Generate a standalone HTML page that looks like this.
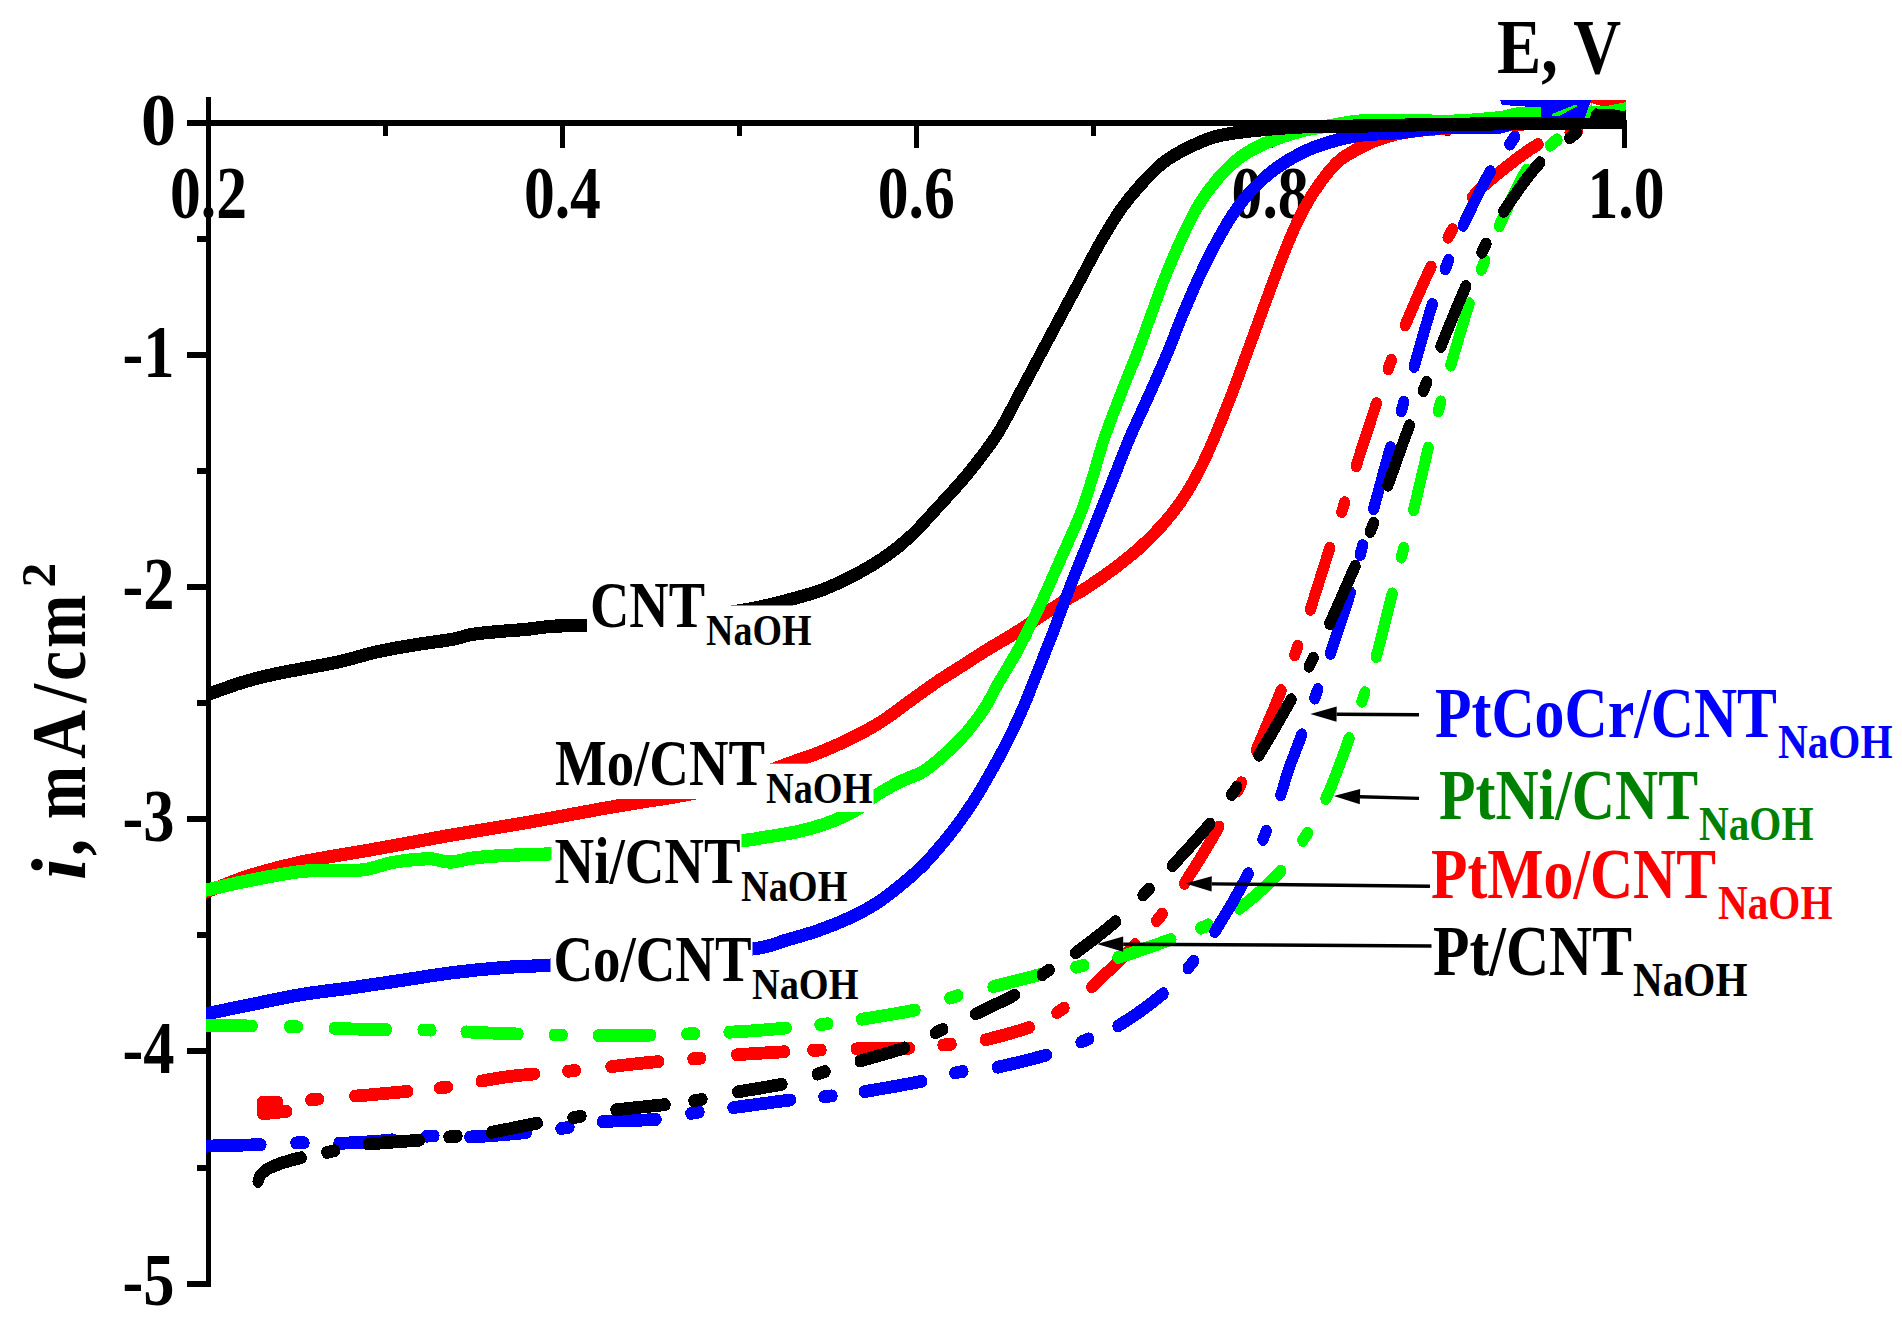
<!DOCTYPE html>
<html><head><meta charset="utf-8"><title>ORR polarization curves</title>
<style>
html,body{margin:0;padding:0;background:#fff;}
body{width:1902px;height:1317px;overflow:hidden;}
svg{display:block;}
text{font-family:"Liberation Serif","Times New Roman",serif;font-weight:bold;}
.ax{stroke:#000;fill:none;}
.cv{fill:none;stroke-width:13.2;stroke-linejoin:round;}
.dd{fill:none;stroke-width:12.8;stroke-linecap:round;stroke-linejoin:round;}
</style></head><body>
<svg width="1902" height="1317" viewBox="0 0 1902 1317">
<rect width="1902" height="1317" fill="#fff"/>
<defs><clipPath id="plot"><rect x="206" y="100" width="1420" height="1190"/></clipPath></defs>

<g class="ax" shape-rendering="crispEdges">
<rect x="206" y="97" width="5" height="1189.5" fill="#000" stroke="none"/>
<rect x="187" y="120" width="1440" height="6" fill="#000" stroke="none"/>
<rect x="382.9" y="123" width="5" height="12.5" fill="#000" stroke="none"/>
<rect x="559.9" y="123" width="5" height="24.5" fill="#000" stroke="none"/>
<rect x="736.8" y="123" width="5" height="12.5" fill="#000" stroke="none"/>
<rect x="913.8" y="123" width="5" height="24.5" fill="#000" stroke="none"/>
<rect x="1090.7" y="123" width="5" height="12.5" fill="#000" stroke="none"/>
<rect x="1267.6" y="123" width="5" height="24.5" fill="#000" stroke="none"/>
<rect x="1444.6" y="123" width="5" height="12.5" fill="#000" stroke="none"/>
<rect x="1621.5" y="123" width="5" height="24.5" fill="#000" stroke="none"/>
<rect x="197" y="236.1" width="11" height="6" fill="#000" stroke="none"/>
<rect x="187" y="352.1" width="21" height="6" fill="#000" stroke="none"/>
<rect x="197" y="468.1" width="11" height="6" fill="#000" stroke="none"/>
<rect x="187" y="584.2" width="21" height="6" fill="#000" stroke="none"/>
<rect x="197" y="700.2" width="11" height="6" fill="#000" stroke="none"/>
<rect x="187" y="816.3" width="21" height="6" fill="#000" stroke="none"/>
<rect x="197" y="932.4" width="11" height="6" fill="#000" stroke="none"/>
<rect x="187" y="1048.4" width="21" height="6" fill="#000" stroke="none"/>
<rect x="197" y="1164.5" width="11" height="6" fill="#000" stroke="none"/>
<rect x="187" y="1280.5" width="21" height="6" fill="#000" stroke="none"/>
</g>
<text x="208.5" y="218.3" font-size="75" textLength="77.0" lengthAdjust="spacingAndGlyphs" fill="#000" text-anchor="middle">0.2</text>
<text x="562.4" y="218.3" font-size="75" textLength="77.0" lengthAdjust="spacingAndGlyphs" fill="#000" text-anchor="middle">0.4</text>
<text x="916.3" y="218.3" font-size="75" textLength="77.0" lengthAdjust="spacingAndGlyphs" fill="#000" text-anchor="middle">0.6</text>
<text x="1270.1" y="218.3" font-size="75" textLength="77.0" lengthAdjust="spacingAndGlyphs" fill="#000" text-anchor="middle">0.8</text>
<text x="1626.0" y="218.3" font-size="75" textLength="77.0" lengthAdjust="spacingAndGlyphs" fill="#000" text-anchor="middle">1.0</text>
<text x="176.0" y="144.5" font-size="74" textLength="35.0" lengthAdjust="spacingAndGlyphs" fill="#000" text-anchor="end">0</text>
<text x="174.5" y="376.6" font-size="74" textLength="52.0" lengthAdjust="spacingAndGlyphs" fill="#000" text-anchor="end">-1</text>
<text x="174.5" y="608.7" font-size="74" textLength="52.0" lengthAdjust="spacingAndGlyphs" fill="#000" text-anchor="end">-2</text>
<text x="174.5" y="840.8" font-size="74" textLength="52.0" lengthAdjust="spacingAndGlyphs" fill="#000" text-anchor="end">-3</text>
<text x="174.5" y="1072.9" font-size="74" textLength="52.0" lengthAdjust="spacingAndGlyphs" fill="#000" text-anchor="end">-4</text>
<text x="174.5" y="1305.0" font-size="74" textLength="52.0" lengthAdjust="spacingAndGlyphs" fill="#000" text-anchor="end">-5</text>
<text x="1497.0" y="72.5" font-size="78" textLength="124.0" lengthAdjust="spacingAndGlyphs" fill="#000" text-anchor="start">E, V</text>
<text transform="translate(84.5,878) rotate(-90)" font-size="78"><tspan x="-2.0" font-style="italic">i</tspan><tspan x="22.0" textLength="33.93" lengthAdjust="spacingAndGlyphs">, </tspan><tspan x="58.8" textLength="53.28" lengthAdjust="spacingAndGlyphs">m</tspan><tspan x="119.0" textLength="48.99" lengthAdjust="spacingAndGlyphs">A</tspan><tspan x="175.2" textLength="18.87" lengthAdjust="spacingAndGlyphs">/</tspan><tspan x="197.0" textLength="30.13" lengthAdjust="spacingAndGlyphs">c</tspan><tspan x="230.0" textLength="53.28" lengthAdjust="spacingAndGlyphs">m</tspan><tspan x="290.6" font-size="49.5" dy="-30">2</tspan></text>
<g clip-path="url(#plot)" shape-rendering="crispEdges"><g transform="scale(0.87,1)">
<path class="cv" stroke="#f00" d="M229.9 894.0C231.8 893.4 231.7 893.5 241.4 890.4C251.1 887.3 270.5 880.0 287.9 875.3C305.4 870.6 321.8 866.5 346.0 862.1C370.2 857.7 404.0 853.3 433.0 848.8C462.0 844.3 491.0 839.3 520.0 834.9C549.0 830.5 577.9 826.7 606.9 822.3C635.9 817.9 672.3 811.8 694.0 808.4C715.8 805.0 723.0 804.2 737.5 802.1C752.0 800.0 766.0 798.5 781.0 796.0C796.1 793.5 810.1 791.3 827.6 787.0C845.1 782.7 872.8 774.0 886.2 770.0C899.6 766.0 899.2 765.8 908.0 763.0C916.9 760.2 927.8 757.3 939.1 753.4C950.4 749.5 963.5 744.7 975.7 739.5C988.0 734.3 1000.4 728.6 1012.4 722.0C1024.4 715.4 1036.9 706.7 1047.6 700.0C1058.3 693.3 1067.0 687.7 1076.7 682.0C1086.3 676.3 1096.0 671.4 1105.6 666.0C1115.3 660.6 1124.9 655.0 1134.6 649.8C1144.3 644.6 1154.0 640.0 1163.7 634.7C1173.4 629.5 1183.0 623.8 1192.6 618.3C1202.3 612.8 1211.9 607.1 1221.6 601.9C1231.3 596.6 1241.0 592.3 1250.7 586.8C1260.4 581.3 1270.0 575.4 1279.7 569.1C1289.3 562.8 1299.4 556.0 1308.6 548.9C1317.8 541.8 1326.6 534.2 1334.8 526.2C1343.0 518.2 1350.7 510.1 1357.9 500.9C1365.2 491.6 1372.0 481.2 1378.3 470.7C1384.6 460.2 1389.2 451.3 1395.7 437.9C1402.3 424.5 1411.3 404.4 1417.6 390.2C1423.9 375.9 1428.2 365.0 1433.6 352.4C1438.9 339.8 1444.2 327.1 1449.5 314.5C1454.9 301.9 1460.2 288.9 1465.5 276.7C1470.8 264.5 1475.8 252.7 1481.4 241.3C1486.9 229.9 1492.6 218.6 1498.9 208.5C1505.1 198.4 1512.3 188.8 1519.1 180.8C1525.8 172.8 1532.2 166.1 1539.4 160.6C1546.7 155.1 1556.1 151.2 1562.6 148.0C1569.2 144.8 1572.1 143.5 1578.9 141.2C1585.6 138.9 1594.9 136.2 1603.0 134.4C1611.1 132.7 1617.2 131.8 1627.2 130.7C1637.3 129.6 1651.9 128.7 1663.2 128.1C1674.6 127.5 1685.2 127.4 1695.4 127.0C1705.6 126.6 1711.7 126.1 1724.1 125.5C1736.6 124.9 1743.3 123.9 1770.1 123.3C1796.9 122.7 1865.9 122.2 1885.1 122.0"/>
<path class="cv" stroke="#00f" d="M229.9 1015.0C231.8 1014.7 231.7 1014.7 241.4 1013.0C251.1 1011.3 270.5 1007.8 287.9 1004.7C305.4 1001.6 326.6 997.4 346.0 994.6C365.3 991.8 384.6 990.2 403.9 987.8C423.2 985.4 442.6 982.8 462.0 980.3C481.3 977.8 500.7 974.8 520.0 972.7C539.3 970.6 559.1 968.9 577.9 967.6C596.8 966.3 604.9 966.7 633.1 965.1C661.3 963.5 708.6 960.7 747.1 958.0C785.7 955.3 838.6 951.9 864.5 949.0C890.4 946.1 890.0 943.5 902.4 940.5C914.8 937.5 926.9 934.6 939.1 930.9C951.3 927.2 964.3 922.8 975.7 918.2C987.1 913.6 997.3 909.0 1007.5 903.3C1017.6 897.6 1027.4 890.8 1036.8 884.1C1046.1 877.4 1054.3 871.4 1063.7 862.9C1073.0 854.4 1084.0 843.0 1093.0 833.1C1102.0 823.2 1109.7 813.6 1117.5 803.3C1125.2 793.0 1132.5 782.0 1139.4 771.4C1146.3 760.8 1152.9 750.1 1159.0 739.5C1165.1 728.9 1170.2 719.4 1176.1 707.6C1182.0 695.8 1188.2 681.4 1194.1 668.5C1200.0 655.6 1205.7 643.2 1211.5 630.0C1217.3 616.8 1223.0 602.4 1228.9 589.3C1234.7 576.2 1240.5 564.0 1246.3 551.4C1252.1 538.8 1257.9 526.2 1263.7 513.6C1269.5 501.0 1275.3 488.3 1281.1 475.7C1287.0 463.1 1291.5 452.1 1298.5 437.9C1305.5 423.6 1316.1 404.4 1323.3 390.2C1330.6 375.9 1336.1 365.0 1342.2 352.4C1348.2 339.8 1353.5 327.1 1359.5 314.5C1365.6 301.9 1372.1 288.5 1378.4 276.7C1384.7 264.9 1390.7 254.3 1397.2 243.8C1403.8 233.3 1410.3 222.8 1417.6 213.6C1424.8 204.3 1432.6 195.9 1440.8 188.3C1449.0 180.7 1457.2 174.2 1466.9 168.1C1476.6 162.0 1488.2 156.1 1498.9 151.7C1509.5 147.3 1520.1 144.3 1530.7 141.6C1541.3 138.9 1549.6 136.8 1562.6 135.3C1575.7 133.8 1594.4 133.7 1609.2 132.5C1624.0 131.3 1636.3 129.0 1651.4 128.1C1666.5 127.2 1687.6 127.2 1699.8 127.0C1711.9 126.8 1717.8 127.6 1724.1 127.0C1730.5 126.4 1730.3 124.4 1737.9 123.5C1745.6 122.6 1745.6 122.0 1770.1 121.5C1794.6 121.0 1865.9 120.7 1885.1 120.5"/>
<path class="cv" stroke="#0f0" d="M229.9 891.0C231.8 890.7 231.7 891.0 241.4 889.2C251.1 887.4 270.5 883.2 287.9 880.3C305.4 877.3 329.1 873.2 346.0 871.5C362.9 869.8 377.4 870.5 389.4 870.2C401.5 869.9 408.2 871.0 418.4 869.7C428.5 868.5 440.7 864.4 450.3 862.7C460.0 861.0 468.7 860.2 476.4 859.6C484.2 859.0 490.0 858.5 496.8 858.9C503.5 859.3 509.3 862.2 517.0 862.1C524.8 862.0 533.1 859.2 543.2 858.1C553.4 857.0 562.5 856.3 577.9 855.6C593.4 854.9 607.8 854.7 636.0 853.8C664.2 852.9 710.9 852.2 747.1 850.0C783.4 847.8 831.6 842.7 853.4 840.6C875.2 838.5 867.7 838.8 877.9 837.4C888.1 836.0 903.2 834.1 914.6 832.0C926.0 829.9 937.0 827.3 946.3 824.6C955.7 821.9 963.9 818.8 970.8 816.0C977.7 813.2 982.8 810.9 987.9 808.0C993.0 805.1 995.3 802.1 1001.4 798.5C1007.5 794.9 1017.9 789.6 1024.6 786.3C1031.3 783.0 1035.6 781.4 1041.7 778.9C1047.8 776.4 1053.9 775.5 1061.3 771.4C1068.6 767.3 1077.6 760.8 1085.7 754.4C1093.9 748.0 1102.4 741.0 1110.1 733.2C1117.9 725.4 1126.4 715.2 1132.2 707.6C1137.9 700.0 1140.2 694.4 1144.6 687.6C1149.0 680.8 1153.9 674.1 1158.6 667.0C1163.4 659.9 1166.7 655.8 1173.1 645.0C1179.5 634.2 1189.3 616.7 1196.9 602.5C1204.5 588.3 1211.1 574.8 1218.6 560.0C1226.1 545.2 1235.7 527.6 1242.0 513.6C1248.3 499.6 1251.8 488.3 1256.4 475.7C1261.0 463.1 1263.9 452.1 1269.5 437.9C1275.1 423.6 1283.7 404.4 1290.0 390.2C1296.3 375.9 1301.8 365.0 1307.4 352.4C1312.9 339.8 1318.0 327.1 1323.3 314.5C1328.7 301.9 1333.8 288.9 1339.3 276.7C1344.9 264.5 1350.4 253.1 1356.7 241.3C1363.0 229.5 1369.8 216.5 1377.0 206.0C1384.3 195.5 1392.0 186.4 1400.2 178.2C1408.4 170.0 1417.1 162.7 1426.3 156.8C1435.5 150.9 1444.0 147.2 1455.3 142.9C1466.6 138.7 1481.8 134.2 1494.3 131.3C1506.7 128.4 1517.8 127.2 1529.9 125.5C1542.0 123.8 1549.6 121.5 1566.7 120.8C1583.7 120.0 1614.0 121.0 1632.2 121.0C1650.4 121.0 1660.5 121.6 1675.9 121.0C1691.2 120.4 1712.3 118.8 1724.1 117.6C1736.0 116.3 1738.5 114.3 1747.1 113.5C1755.7 112.7 1768.2 112.8 1775.9 112.5C1783.5 112.2 1784.5 111.9 1793.1 112.0C1801.7 112.1 1812.3 113.0 1827.6 113.0C1842.9 113.0 1875.5 112.2 1885.1 112.0"/>
<path fill="none" stroke="#f00" stroke-width="12.8" stroke-linecap="round" stroke-linejoin="round" d="M301.6 1113.5 L301.6 1102.2 L319.4 1102.2 L319.4 1111.5 L329.7 1111.5 L304.6 1113.5"/>
<path class="dd" stroke="#f00" stroke-dasharray="9.2 41.4 61.1 36.8 9.2 39.0 62.0 38.0 9.2 40.5 55.6 38.9 9.2 41.6 55.3 32.5 9.2 40.5 61.1 39.0 9.2 39.7 52.0 35.4 9.2 38.2 65.4 34.5 9.2 40.0 68.8 41.9 9.2 37.1 66.0 39.0 9.2 39.8 65.1 39.1 9.2 39.3 66.4 37.6 9.2 38.6 65.2 35.7 9.2 39.5 92.5 38.9 9.2 9000.0" stroke-dashoffset="-12.6" d="M344.8 1101.5C347.7 1101.2 346.2 1100.7 361.8 1099.4C377.5 1098.1 414.1 1095.8 438.7 1093.8C463.4 1091.8 485.6 1090.3 509.8 1087.5C533.9 1084.7 559.3 1079.5 583.8 1076.7C608.3 1073.9 632.7 1073.0 656.9 1070.9C681.1 1068.8 711.8 1065.6 728.7 1064.0C745.7 1062.4 746.6 1062.4 758.6 1061.5C770.6 1060.6 787.2 1059.5 800.6 1058.5C814.0 1057.5 821.0 1056.4 839.1 1055.2C857.1 1054.0 892.2 1052.2 908.9 1051.4C925.5 1050.6 927.6 1050.6 938.9 1050.2C950.1 1049.8 957.7 1049.3 976.2 1048.9C994.8 1048.5 1031.4 1048.7 1050.1 1048.0C1068.8 1047.3 1075.9 1045.7 1088.5 1044.6C1101.1 1043.5 1108.7 1044.5 1125.5 1041.3C1142.3 1038.1 1173.9 1030.6 1189.4 1025.4C1205.0 1020.2 1208.3 1016.4 1218.9 1010.3C1229.4 1004.1 1238.6 999.5 1252.9 988.5C1267.1 977.5 1291.2 956.4 1304.5 944.6C1317.8 932.8 1323.2 927.7 1332.6 917.5C1342.1 907.3 1350.0 898.5 1361.4 883.4C1372.8 868.3 1390.4 843.1 1400.9 827.1C1411.5 811.1 1417.4 799.9 1424.6 787.1C1431.8 774.3 1435.9 766.2 1443.9 750.1C1451.9 734.0 1465.0 707.3 1472.6 690.7C1480.3 674.1 1484.3 664.2 1489.9 650.7C1495.5 637.2 1499.8 626.5 1506.2 609.4C1512.6 592.3 1522.1 565.2 1528.4 548.2C1534.7 531.2 1538.9 521.1 1543.9 507.4C1549.0 493.7 1552.4 483.4 1558.7 466.1C1565.1 448.9 1575.5 420.8 1582.0 403.9C1588.4 387.0 1591.8 377.7 1597.4 364.6C1602.9 351.5 1607.3 341.4 1615.2 325.2C1623.1 308.9 1636.2 282.4 1644.8 267.1C1653.5 251.8 1659.1 245.1 1667.0 233.5C1674.9 221.9 1682.7 207.7 1692.3 197.4C1701.9 187.1 1712.2 180.4 1724.8 171.6C1737.4 162.8 1753.8 151.2 1767.8 144.5C1781.9 137.8 1789.7 134.8 1809.2 131.6C1828.7 128.3 1872.4 126.1 1885.1 125.0"/>
<path class="dd" stroke="#0f0" stroke-dasharray="65.9 42.6 9.2 42.2 60.1 42.1 9.2 40.5 59.8 41.5 9.2 41.4 60.3 41.5 9.2 39.5 65.9 38.6 9.2 39.1 62.2 42.0 9.2 41.5 54.8 42.6 9.2 40.0 63.6 36.1 9.2 39.4 60.5 39.9 9.2 40.3 65.9 39.8 9.2 38.5 65.4 38.4 9.2 39.9 64.2 38.9 9.2 38.7 65.0 37.3 9.2 38.9 63.7 37.2 9.2 9000.0" stroke-dashoffset="-0.0" d="M224.1 1025.0C227.0 1025.1 222.5 1025.1 241.4 1025.4C260.2 1025.7 308.2 1026.1 337.2 1026.7C366.3 1027.3 389.9 1028.7 415.5 1029.2C441.1 1029.8 466.1 1029.4 490.8 1030.0C515.5 1030.6 538.3 1032.2 563.4 1033.0C588.6 1033.8 615.7 1034.6 641.8 1035.0C668.0 1035.4 694.7 1035.7 720.1 1035.5C745.5 1035.3 769.3 1034.6 794.3 1033.8C819.3 1033.0 844.6 1032.1 870.1 1030.5C895.6 1028.9 927.9 1026.0 947.1 1024.2C966.4 1022.4 966.7 1022.5 985.5 1019.9C1004.3 1017.3 1041.3 1012.4 1059.8 1008.5C1078.3 1004.6 1084.1 1000.1 1096.6 996.7C1109.0 993.3 1116.6 992.2 1134.3 988.3C1151.9 984.4 1184.4 976.9 1202.3 973.2C1220.2 969.5 1227.6 968.9 1241.4 966.3C1255.2 963.7 1267.6 962.0 1285.1 957.5C1302.5 953.0 1329.4 944.6 1346.0 939.4C1362.6 934.2 1371.5 931.7 1384.6 926.5C1397.7 921.3 1410.0 917.6 1424.6 908.4C1439.2 899.1 1459.5 883.0 1472.1 871.0C1484.7 859.0 1491.6 848.8 1500.2 836.7C1508.9 824.7 1517.1 811.5 1524.0 798.7C1531.0 785.9 1537.4 770.0 1541.8 760.0C1546.3 750.0 1546.5 749.0 1550.7 738.5C1554.9 728.0 1561.8 710.8 1567.0 697.2C1572.2 683.6 1576.3 673.9 1581.8 656.7C1587.4 639.5 1595.2 611.2 1600.2 593.9C1605.3 576.5 1608.0 566.6 1612.1 552.6C1616.2 538.6 1619.9 527.4 1624.8 510.0C1629.8 492.6 1636.8 465.4 1641.7 448.1C1646.7 430.9 1650.3 420.3 1654.6 406.5C1658.9 392.7 1661.9 382.3 1667.6 365.2C1673.3 348.1 1682.5 320.4 1688.7 303.7C1694.9 287.0 1698.9 278.0 1704.7 265.0C1710.5 252.0 1715.1 241.6 1723.4 225.8C1731.8 210.0 1744.2 184.2 1754.6 170.3C1765.0 156.5 1775.4 149.8 1785.6 142.7C1795.9 135.6 1799.5 131.8 1816.1 128.0C1832.7 124.2 1873.6 121.3 1885.1 120.0"/>
<path class="dd" stroke="#00f" stroke-dasharray="75.9 40.3 9.2 40.2 61.7 38.6 9.2 41.4 64.7 40.3 9.2 39.1 61.7 40.5 9.2 39.5 66.5 38.6 9.2 37.5 66.7 39.2 9.2 40.0 57.8 41.9 9.2 36.1 61.3 38.5 9.2 38.3 69.7 38.4 9.2 39.5 64.9 39.5 9.2 39.1 64.9 39.9 9.2 39.0 64.1 38.8 9.2 37.6 65.4 38.8 9.2 38.8 62.1 35.4 9.2 9000.0" stroke-dashoffset="-0.0" d="M224.1 1147.0C227.0 1146.8 228.0 1146.4 241.4 1146.0C254.8 1145.6 287.4 1145.0 304.6 1144.5C321.8 1144.0 331.6 1143.0 344.8 1142.8C358.0 1142.6 368.4 1143.8 383.7 1143.5C399.0 1143.2 418.4 1142.2 436.8 1141.0C455.2 1139.8 477.9 1136.6 494.3 1136.0C510.6 1135.4 515.8 1137.8 535.1 1137.2C554.3 1136.6 590.8 1133.8 609.9 1132.2C628.9 1130.7 636.5 1129.6 649.4 1127.9C662.4 1126.2 668.8 1123.5 687.6 1122.0C706.4 1120.5 743.5 1120.5 762.1 1119.0C780.6 1117.5 786.3 1114.5 798.9 1112.7C811.4 1110.9 818.3 1110.4 837.5 1108.2C856.6 1106.0 894.8 1101.4 913.8 1099.4C932.8 1097.4 939.3 1097.5 951.7 1096.3C964.2 1095.1 969.7 1094.9 988.5 1092.3C1007.3 1089.7 1045.6 1083.8 1064.6 1080.4C1083.6 1077.0 1089.9 1074.1 1102.3 1072.1C1114.7 1070.1 1121.0 1071.8 1139.1 1068.6C1157.1 1065.4 1192.6 1057.9 1210.6 1053.2C1228.6 1048.5 1234.7 1045.0 1247.1 1040.4C1259.5 1035.9 1270.1 1033.7 1285.1 1025.9C1300.1 1018.1 1323.2 1003.8 1337.1 993.6C1351.1 983.4 1359.0 974.8 1368.9 964.5C1378.7 954.2 1385.4 946.9 1396.4 931.7C1407.5 916.6 1425.4 889.7 1434.9 873.6C1444.5 857.5 1447.5 848.0 1453.7 834.9C1459.9 821.8 1467.5 805.6 1472.1 794.8C1476.6 784.0 1476.9 780.0 1480.9 770.0C1485.0 760.0 1491.0 747.3 1496.3 734.6C1501.7 721.9 1507.5 707.3 1513.0 693.8C1518.5 680.2 1522.8 670.2 1529.3 653.3C1535.8 636.4 1546.2 609.8 1552.2 592.6C1558.1 575.4 1560.5 564.0 1564.9 550.0C1569.4 536.0 1573.3 525.8 1578.9 508.7C1584.4 491.6 1592.6 464.6 1598.2 447.6C1603.7 430.6 1607.6 420.0 1612.2 406.5C1616.7 393.0 1619.8 383.5 1625.5 366.5C1631.2 349.5 1640.0 321.5 1646.3 304.5C1652.6 287.5 1657.3 277.7 1663.2 264.5C1669.1 251.3 1673.5 240.8 1681.8 225.3C1690.1 209.8 1703.6 185.7 1713.0 171.6C1722.4 157.5 1730.7 150.0 1738.3 140.6C1745.9 131.2 1752.4 122.6 1758.6 115.0C1764.9 107.4 1773.0 98.3 1775.9 95.0"/>
<path class="dd" stroke="#000" stroke-dasharray="57.6 29.7 9.2 39.3 59.0 34.2 9.2 39.8 53.6 41.3 9.2 40.7 56.9 33.5 9.2 41.6 51.6 41.8 9.2 41.7 52.8 38.6 9.2 40.7 48.6 37.8 9.2 35.1 55.4 41.3 9.2 35.5 60.0 38.9 9.2 40.8 66.8 39.5 9.2 39.6 64.3 38.7 9.2 41.3 64.4 38.7 9.2 39.3 66.6 38.9 9.2 38.6 64.3 42.1 9.2 9000.0" stroke-dashoffset="-0.0" d="M296.6 1181.4C297.0 1180.3 297.6 1177.1 299.5 1175.0C301.5 1172.9 303.7 1170.9 308.0 1168.8C312.4 1166.7 319.1 1164.4 325.6 1162.5C332.2 1160.6 338.3 1159.2 347.4 1157.4C356.4 1155.6 368.6 1153.7 380.0 1151.6C391.4 1149.5 397.3 1146.8 415.5 1144.8C433.8 1142.8 472.0 1141.1 489.5 1139.7C507.1 1138.3 509.3 1137.5 520.7 1136.5C532.0 1135.5 540.3 1135.8 557.7 1133.4C575.1 1131.0 607.4 1124.7 624.9 1122.0C642.5 1119.3 650.7 1118.9 663.2 1117.0C675.8 1115.1 682.3 1112.9 700.3 1110.7C718.4 1108.5 754.7 1105.7 771.7 1103.9C788.7 1102.1 790.8 1101.9 802.3 1100.1C813.8 1098.3 823.4 1095.8 840.7 1093.0C857.9 1090.2 888.6 1086.3 905.7 1083.0C922.9 1079.7 931.1 1076.3 943.7 1072.9C956.3 1069.5 964.3 1067.3 981.4 1062.8C998.5 1058.3 1030.0 1051.2 1046.3 1045.9C1062.6 1040.6 1067.9 1036.1 1079.3 1031.2C1090.7 1026.3 1099.5 1023.1 1114.9 1016.6C1130.4 1010.1 1157.5 999.5 1172.0 992.1C1186.4 984.7 1191.3 978.8 1201.7 972.4C1212.1 966.0 1220.8 962.6 1234.5 954.0C1248.2 945.4 1270.1 930.8 1283.9 920.5C1297.7 910.2 1306.6 901.3 1317.2 892.2C1327.8 883.1 1335.3 877.2 1347.5 865.8C1359.7 854.4 1378.6 836.5 1390.5 824.0C1402.3 811.5 1409.3 802.5 1418.7 791.0C1428.1 779.5 1435.9 770.5 1446.8 755.3C1457.6 740.1 1473.9 715.3 1483.9 699.8C1493.9 684.3 1499.6 675.0 1507.0 662.3C1514.4 649.6 1520.0 639.6 1528.4 623.6C1536.8 607.6 1549.4 582.3 1557.5 566.3C1565.5 550.3 1570.5 541.1 1576.8 527.6C1583.1 514.1 1588.1 502.1 1595.2 485.5C1602.2 468.9 1611.8 444.5 1619.0 428.0C1626.1 411.5 1631.7 400.2 1637.9 386.6C1644.1 373.0 1648.3 363.3 1656.1 346.6C1663.9 329.9 1676.6 302.9 1684.8 286.5C1693.1 270.1 1698.4 260.8 1705.6 248.3C1712.9 235.8 1717.7 225.9 1728.4 211.6C1739.1 197.3 1756.7 175.3 1770.0 162.6C1783.3 149.9 1798.3 141.9 1807.9 135.5C1817.5 129.1 1823.2 127.2 1827.6 124.0C1832.0 120.8 1827.6 117.6 1834.5 116.0C1841.4 114.4 1860.5 114.6 1869.0 114.3C1877.4 114.0 1882.4 114.0 1885.1 114.0"/>
<path class="cv" stroke="#000" d="M229.9 696.0C231.8 695.6 233.1 695.9 241.4 693.6C249.6 691.3 266.7 685.5 279.3 682.2C291.9 678.9 304.3 676.3 316.9 673.9C329.4 671.5 342.0 669.7 354.6 667.6C367.2 665.5 379.2 663.9 392.3 661.3C405.4 658.7 419.0 654.6 433.0 651.9C447.0 649.2 461.9 647.0 476.4 644.9C490.9 642.8 508.9 641.1 520.0 639.3C531.1 637.5 533.6 635.6 543.2 634.3C552.9 632.9 567.3 632.1 577.9 631.2C588.5 630.4 597.2 630.0 606.9 629.2C616.6 628.4 624.6 626.8 636.0 626.2C647.4 625.6 658.6 626.1 675.2 625.4C691.8 624.7 714.1 623.6 735.6 622.0C757.2 620.4 787.0 617.7 804.6 616.0C822.2 614.3 829.9 613.5 841.4 612.0C852.9 610.5 862.4 609.1 873.6 607.0C884.7 604.9 896.3 602.4 908.4 599.5C920.5 596.6 933.5 593.7 946.1 589.5C958.7 585.3 971.7 579.9 983.8 574.3C995.9 568.7 1008.0 562.5 1018.6 556.0C1029.3 549.5 1037.9 543.4 1047.6 535.5C1057.3 527.6 1067.0 517.6 1076.7 508.5C1086.3 499.4 1096.9 489.6 1105.6 480.8C1114.3 472.0 1121.6 463.9 1128.9 455.5C1136.1 447.1 1141.6 441.2 1149.1 430.3C1156.6 419.4 1165.9 403.2 1173.9 390.2C1181.9 377.2 1189.4 365.0 1197.1 352.4C1204.9 339.8 1212.6 327.1 1220.3 314.5C1228.1 301.9 1236.3 288.5 1243.6 276.7C1250.8 264.9 1256.7 254.8 1263.9 243.8C1271.1 232.9 1279.3 220.7 1287.0 211.0C1294.7 201.3 1302.0 193.8 1310.2 185.8C1318.4 177.8 1327.1 169.4 1336.3 163.1C1345.5 156.8 1355.2 152.3 1365.4 147.9C1375.6 143.5 1386.1 139.3 1397.2 136.6C1408.4 133.9 1419.0 132.9 1432.1 131.5C1445.1 130.1 1461.4 128.9 1475.6 128.0C1489.8 127.1 1502.1 126.6 1517.2 126.3C1532.4 126.0 1546.4 126.3 1566.7 126.0C1587.0 125.7 1616.9 125.0 1639.1 124.7C1661.3 124.4 1678.2 124.2 1700.0 124.0C1721.8 123.8 1746.9 123.8 1770.1 123.5C1793.3 123.2 1819.9 122.8 1839.1 122.5C1858.2 122.2 1877.4 122.1 1885.1 122.0"/>
</g>
<path fill="#00f" d="M1500 99L1591.5 99L1585 117.5L1540.6 117.5L1540.6 107.5L1502 105Z"/>
<path fill="#0f0" d="M1551 116.5L1553 113.5L1576 104.5L1577.5 106L1560 115.5Z"/>
<path fill="#0f0" d="M1585 117.5L1591.5 102.5L1591.5 112L1590 117.5Z"/>
<path fill="#f00" d="M1590.2 102.6L1591.5 99L1627 99L1627 101.8L1604.5 106.4L1597.7 105.1Z"/>
<path fill="#0f0" d="M1604.5 106.4L1627 101.8L1627 110.5L1622 111.5L1614.6 109.8L1600.3 109Z"/>
<path fill="#000" d="M1591 112L1595.2 108.1L1600 109L1614.6 109.5L1622 111L1627 110.2L1627 126L1591 126Z"/>
</g>
<rect x="587.0" y="574.2" width="119.0" height="66.6" fill="#fff"/>
<rect x="705.0" y="605.5" width="107.5" height="48.3" fill="#fff"/>
<text x="590.0" y="626.8" font-size="65" textLength="115.0" lengthAdjust="spacingAndGlyphs" fill="#000" text-anchor="start">CNT</text>
<text x="706.0" y="644.8" font-size="44" textLength="105.5" lengthAdjust="spacingAndGlyphs" fill="#000" text-anchor="start">NaOH</text>
<rect x="552.0" y="732.4" width="214.0" height="66.6" fill="#fff"/>
<rect x="765.0" y="763.7" width="108.5" height="48.3" fill="#fff"/>
<text x="555.0" y="785.0" font-size="65" textLength="210.0" lengthAdjust="spacingAndGlyphs" fill="#000" text-anchor="start">Mo/CNT</text>
<text x="766.0" y="803.0" font-size="44" textLength="106.5" lengthAdjust="spacingAndGlyphs" fill="#000" text-anchor="start">NaOH</text>
<rect x="551.5" y="830.1" width="190.0" height="66.6" fill="#fff"/>
<rect x="740.0" y="861.4" width="108.5" height="48.3" fill="#fff"/>
<text x="554.5" y="882.7" font-size="65" textLength="186.0" lengthAdjust="spacingAndGlyphs" fill="#000" text-anchor="start">Ni/CNT</text>
<text x="741.0" y="900.7" font-size="44" textLength="106.5" lengthAdjust="spacingAndGlyphs" fill="#000" text-anchor="start">NaOH</text>
<rect x="550.5" y="928.0" width="202.0" height="66.6" fill="#fff"/>
<rect x="751.0" y="959.3" width="108.5" height="48.3" fill="#fff"/>
<text x="553.5" y="980.6" font-size="65" textLength="198.0" lengthAdjust="spacingAndGlyphs" fill="#000" text-anchor="start">Co/CNT</text>
<text x="752.0" y="998.6" font-size="44" textLength="106.5" lengthAdjust="spacingAndGlyphs" fill="#000" text-anchor="start">NaOH</text>
<text x="1435.0" y="736.5" font-size="71.5" textLength="342.0" lengthAdjust="spacingAndGlyphs" fill="#00f" text-anchor="start">PtCoCr/CNT</text>
<text x="1778.0" y="757.8" font-size="49" textLength="114.5" lengthAdjust="spacingAndGlyphs" fill="#00f" text-anchor="start">NaOH</text>
<text x="1439.0" y="818.9" font-size="71.5" textLength="259.0" lengthAdjust="spacingAndGlyphs" fill="#008000" text-anchor="start">PtNi/CNT</text>
<text x="1699.0" y="840.2" font-size="49" textLength="114.5" lengthAdjust="spacingAndGlyphs" fill="#008000" text-anchor="start">NaOH</text>
<text x="1431.0" y="898.0" font-size="71.5" textLength="285.0" lengthAdjust="spacingAndGlyphs" fill="#f00" text-anchor="start">PtMo/CNT</text>
<text x="1718.0" y="919.3" font-size="49" textLength="114.5" lengthAdjust="spacingAndGlyphs" fill="#f00" text-anchor="start">NaOH</text>
<text x="1433.0" y="974.9" font-size="71.5" textLength="199.0" lengthAdjust="spacingAndGlyphs" fill="#000" text-anchor="start">Pt/CNT</text>
<text x="1633.0" y="996.2" font-size="49" textLength="114.5" lengthAdjust="spacingAndGlyphs" fill="#000" text-anchor="start">NaOH</text>
<line x1="1419.0" y1="714.8" x2="1336.6" y2="714.2" stroke="#000" stroke-width="3.4"/><path d="M1310.4 714.0 L1336.7 706.6 L1336.5 721.8 Z" fill="#000"/>
<line x1="1419.0" y1="798.4" x2="1360.0" y2="796.7" stroke="#000" stroke-width="3.4"/><path d="M1333.8 796.0 L1360.2 789.1 L1359.8 804.3 Z" fill="#000"/>
<line x1="1430.0" y1="886.2" x2="1211.7" y2="883.9" stroke="#000" stroke-width="3.4"/><path d="M1185.5 883.6 L1211.8 876.3 L1211.6 891.5 Z" fill="#000"/>
<line x1="1431.5" y1="946.0" x2="1123.2" y2="944.2" stroke="#000" stroke-width="3.4"/><path d="M1097.0 944.0 L1123.2 936.6 L1123.2 951.8 Z" fill="#000"/>
</svg></body></html>
